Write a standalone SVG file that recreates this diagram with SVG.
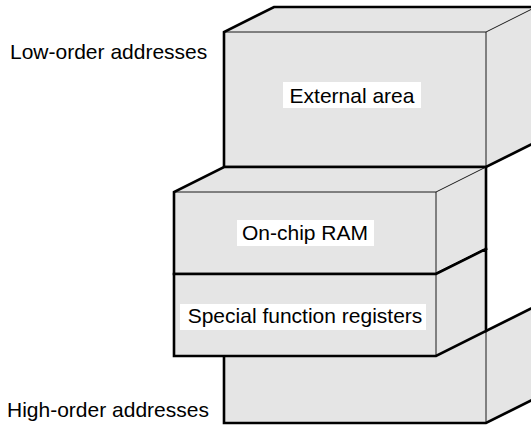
<svg xmlns="http://www.w3.org/2000/svg" width="531" height="427" viewBox="0 0 531 427">
  <style>
    .face { fill: #e5e5e5; stroke: none; }
    .thin { fill: none; stroke: #1a1a1a; stroke-width: 1; }
    .thick { fill: none; stroke: #000; stroke-width: 2.6; stroke-linejoin: miter; stroke-linecap: square; }
    .lbl { font-family: "Liberation Sans", Arial, sans-serif; font-size: 21px; fill: #000; }
    .bg { fill: #fff; }
  </style>
  <rect width="531" height="427" fill="#fff"/>

  <!-- upper block: external area -->
  <g id="external-area">
    <rect class="face" x="224" y="32" width="262" height="135"/>
    <polygon class="face" points="224,32 274,7 536,7 486,32"/>
    <polygon class="face" points="486,32 536,7 536,142 486,167"/>
    <path class="thin" d="M224,32 H486 V167 M486,32 L536,7"/>
    <path class="thick" d="M224,167 V32 L274,7 H540 M224,167 H486 L536,142"/>
    <rect class="bg" x="283" y="82" width="138" height="26"/>
    <text class="lbl" x="352" y="103" text-anchor="middle">External area</text>
  </g>

  <!-- lower block -->
  <g id="lower-block">
    <rect class="face" x="224" y="331" width="262" height="92"/>
    <polygon class="face" points="486,331 536,306 536,398 486,423"/>
    <path class="thin" d="M486,331 V423"/>
    <path class="thick" d="M224,331 V423 H486 L536,398 M486,331 L536,306"/>
  </g>

  <!-- front block, upper section -->
  <g id="on-chip-ram">
    <rect class="face" x="174" y="192" width="262" height="82"/>
    <polygon class="face" points="174,192 224,167 486,167 436,192"/>
    <polygon class="face" points="436,192 486,167 486,249 436,274"/>
    <path class="thin" d="M174,192 H436 V274 M436,192 L486,167"/>
    <path class="thick" d="M174,274 V192 L224,167 H486 V249 L436,274 H174"/>
    <rect class="bg" x="237" y="220" width="137" height="26"/>
    <text class="lbl" x="305" y="240" text-anchor="middle">On-chip RAM</text>
  </g>

  <!-- front block, lower section -->
  <g id="special-function-registers">
    <rect class="face" x="174" y="274" width="262" height="82"/>
    <polygon class="face" points="436,274 486,249 486,331 436,356"/>
    <path class="thin" d="M436,274 V356"/>
    <path class="thick" d="M174,274 V356 H436 L486,331 V249 M174,274 H436 L486,249"/>
    <rect class="bg" x="180" y="304" width="246" height="26"/>
    <text class="lbl" x="305" y="323" text-anchor="middle">Special function registers</text>
  </g>

  <!-- address direction labels -->
  <g id="labels">
    <text class="lbl" x="10" y="59">Low-order addresses</text>
    <text class="lbl" x="7" y="417">High-order addresses</text>
  </g>
</svg>
